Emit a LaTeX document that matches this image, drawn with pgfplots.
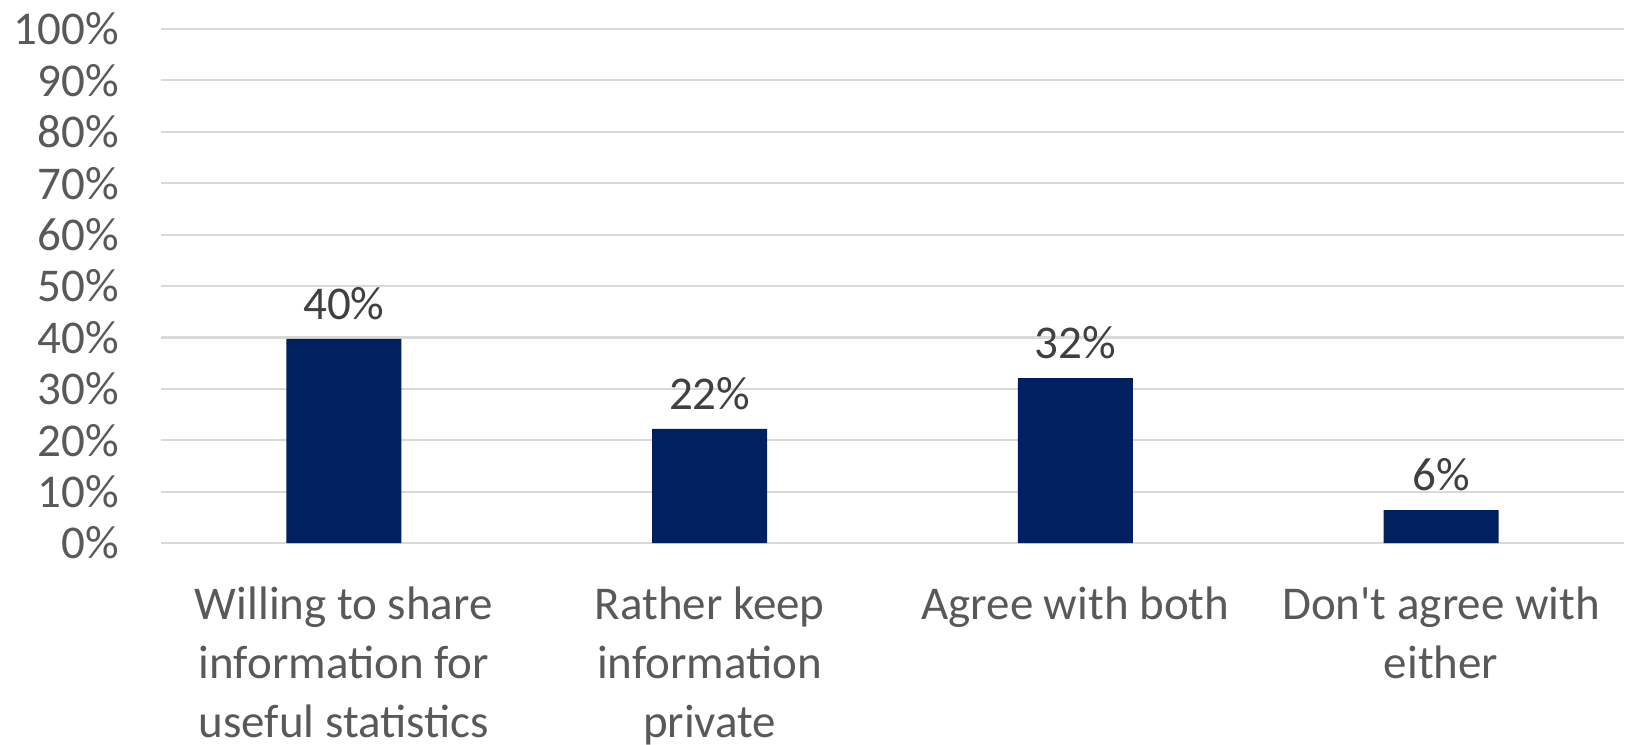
\documentclass[border=0pt]{standalone}
\usepackage{pgfplots}
\pgfplotsset{compat=1.18}
\usepackage{fontspec}
\setmainfont{Carlito}
\definecolor{barblue}{HTML}{002060}
\definecolor{gridgray}{HTML}{D9D9D9}
\definecolor{ticktext}{HTML}{595959}
\definecolor{labtext}{HTML}{404040}
\begin{document}
\begin{tikzpicture}
\begin{axis}[
  at={(0,0)}, anchor=south west,
  scale only axis,
  width=731.5pt, height=257pt,
  xmin=-0.5, xmax=3.5,
  ymin=0, ymax=100,
  ytick={0,10,...,100},
  yticklabel={\pgfmathprintnumber{\tick}\%},
  /pgf/number format/assume math mode=true,
  xtick={0,1,2,3},
  xticklabels={{Willing to share\\information for\\useful statistics},{Rather keep\\information\\private},{Agree with both},{Don\textquotesingle t agree with\\either}},
  xticklabel style={align=center, anchor=north, yshift=-18.5pt, font=\fontsize{23.5}{29.5}\selectfont, text=ticktext},
  yticklabel style={font=\fontsize{23.5}{28.5}\selectfont, text=ticktext, xshift=-17.5pt},
  major tick length=0pt,
  axis line style={draw=none},
  ymajorgrids,
  grid style={gridgray, line width=1.1pt},
  ybar,
  bar width=57.5pt,
  nodes near coords={\pgfmathprintnumber[fixed,precision=0]{\pgfplotspointmeta}\%},
  nodes near coords style={font=\fontsize{23.5}{28.5}\selectfont, text=labtext, anchor=south, yshift=6pt},
  clip=false,
]
\addplot[fill=barblue, draw=none] coordinates {(0,39.7) (1,22.2) (2,32.1) (3,6.4)};
\end{axis}
\pgfresetboundingbox
\path (-80.5pt,-100.5pt) rectangle (732.5pt,271.5pt);
\end{tikzpicture}
\end{document}
